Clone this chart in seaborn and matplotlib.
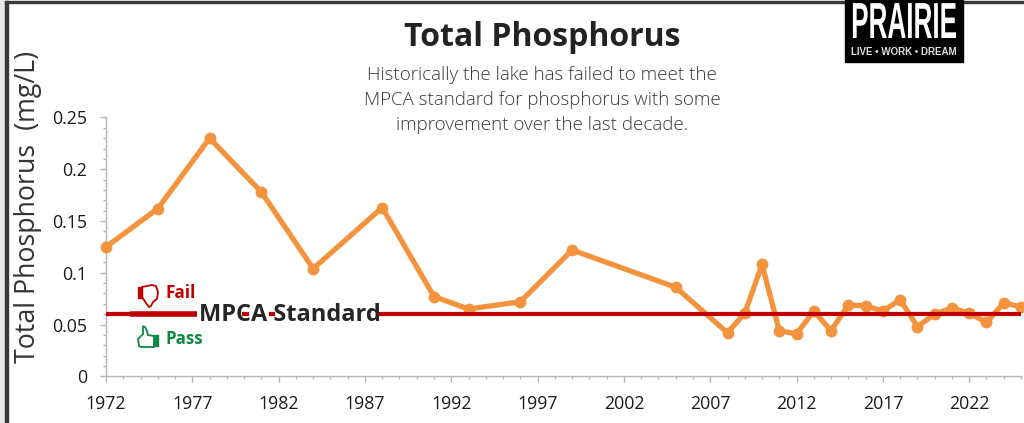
import matplotlib
matplotlib.use("Agg")
import matplotlib.pyplot as plt
import seaborn as sns
import pandas as pd
from matplotlib.patches import Rectangle, Polygon
from matplotlib.patheffects import AbstractPathEffect
from matplotlib.ticker import MultipleLocator, FuncFormatter
from matplotlib.transforms import Affine2D

# values
years = [1972, 1975, 1978, 1981, 1984, 1988, 1991, 1993, 1996, 1999, 2005, 2008, 2009, 2010, 2011,
         2012, 2013, 2014, 2015, 2016, 2017, 2018, 2019, 2020, 2021, 2022, 2023, 2024, 2025]
phosphorus = [0.125, 0.162, 0.230, 0.178, 0.104, 0.163, 0.077, 0.065, 0.072, 0.122, 0.086, 0.042, 0.061, 0.108, 0.044,
              0.041, 0.063, 0.044, 0.069, 0.068, 0.063, 0.074, 0.048, 0.060, 0.066, 0.061, 0.052, 0.071, 0.067]
standard = 0.06
# bits of the standard line that show around its label
standard_spans = [(1972, 1977.3), (1979.9, 1980.3), (1981.45, 1981.8), (1987.8, 2025)]
xticks = list(range(1972, 2026, 5))
subtitle = "Historically the lake has failed to meet the\nMPCA standard for phosphorus with some\nimprovement over the last decade."

W, H = 1024, 423


class Squeeze(AbstractPathEffect):
    # narrows a text around its centre, no condensed font is installed
    def __init__(self, cx, sx):
        super().__init__()
        self.cx, self.sx = cx, sx

    def draw_path(self, renderer, gc, tpath, affine, rgbFace=None):
        squeezed = affine + Affine2D().translate(-self.cx, 0).scale(self.sx, 1).translate(self.cx, 0)
        renderer.draw_path(gc, tpath, squeezed, rgbFace)


sns.set_theme(style="white")
plt.rcParams['font.family'] = ['Open Sans', 'DejaVu Sans']

fig = plt.figure(figsize=(W / 100, H / 100), dpi=100)
ax = fig.add_axes([106 / W, 1 - 376.3 / H, (1021 - 106) / W, (376.3 - 117.5) / H])
ax.patch.set_alpha(0)

df = pd.DataFrame({"year": years, "tp": phosphorus})
sns.lineplot(data=df, x="year", y="tp", ax=ax, color="#F4933D", linewidth=3.8, marker="o",
             markersize=8.5, markeredgewidth=0, clip_on=False, zorder=3)
for x0, x1 in standard_spans:
    ax.plot([x0, x1], [standard, standard], color="#C00000", linewidth=3, zorder=4, solid_capstyle="butt", clip_on=False)
ax.plot([1973.4, 1977.3], [standard, standard], color="#C00000", linewidth=4, zorder=4, solid_capstyle="butt")

ax.set_xlim(1972, 2025)
ax.set_ylim(0, 0.25)
ax.set_xticks(xticks)
ax.xaxis.set_minor_locator(MultipleLocator(1))
ax.yaxis.set_major_locator(MultipleLocator(0.05))
ax.yaxis.set_minor_locator(MultipleLocator(0.01))
ax.yaxis.set_major_formatter(FuncFormatter(lambda v, p: f"{v:.2f}".rstrip("0").rstrip(".")))
for s in ["top", "right"]:
    ax.spines[s].set_visible(False)
for s in ["left", "bottom"]:
    ax.spines[s].set_color("#B5B5B5")
    ax.spines[s].set_linewidth(1)
ax.tick_params(which="major", length=4.3, width=1, color="#B5B5B5", labelsize=12.8, labelcolor="#1a1a1a", left=True, bottom=True, pad=9.5)
ax.tick_params(which="minor", length=2.5, width=1, color="#B5B5B5", left=True, bottom=True)
ax.set_xlabel("")
ax.set_ylabel("")

fig.text(28.5 / W, 1 - 207 / H, "Total Phosphorus  (mg/L)", rotation=90, fontsize=19.3, color="#333333", ha="center", va="center")
fig.text(542 / W, 1 - 38 / H, "Total Phosphorus", fontsize=23, fontweight="bold", color="#222222", ha="center", va="center")
fig.text(542 / W, 1 - 100 / H, subtitle, fontsize=13.5, color="#3A3A3A", ha="center", va="center", fontweight="light", linespacing=1.52)

fig.text(290 / W, 1 - 314.5 / H, "MPCA Standard", fontsize=17, fontweight="bold", color="#262626", ha="center", va="center", zorder=6)
fig.text(165.5 / W, 1 - 293 / H, "Fail", fontsize=12.4, fontweight="bold", color="#C00000", va="center")
fig.text(165.5 / W, 1 - 339 / H, "Pass", fontsize=12.2, fontweight="bold", color="#0B8A44", va="center")

# thumbs, no installed font has these glyphs (pixel positions, top-left origin)
px = Affine2D().scale(1 / W, -1 / H).translate(0, 1) + fig.transFigure
thumb_down = [(142, 287), (152, 285), (156, 286), (158, 292), (157, 299), (153, 302), (151, 306), (149, 307),
              (146, 303), (142, 297)]
thumb_up = [(154, 336), (148, 335), (147, 331), (145, 327), (143, 326), (143, 334), (138, 339), (139, 346),
            (141, 347), (154, 347)]
fig.patches.append(Polygon(thumb_down, closed=True, fill=False, edgecolor="#C00000", linewidth=1.3, transform=px, zorder=6))
fig.patches.append(Rectangle((137.5, 287), 4.5, 11, color="#C00000", transform=px, zorder=6))
fig.patches.append(Polygon(thumb_up, closed=True, fill=False, edgecolor="#0B8A44", linewidth=1.3, transform=px, zorder=6))
fig.patches.append(Rectangle((154, 335), 4, 11.5, color="#0B8A44", transform=px, zorder=6))

# frame of the slide
fig.patches.append(Rectangle((0, 0), 5, H, transform=px, color="#E4E6E8", zorder=0))
fig.patches.append(Rectangle((5, 1), 2.5, H, transform=px, color="#3A3A3A", zorder=1))
fig.patches.append(Rectangle((5, 1), W, 2, transform=px, color="#3A3A3A", zorder=1))

# logo
fig.patches.append(Rectangle((845, 0), 118, 62, transform=px, color="black", zorder=5))
fig.text(904 / W, 1 - 38 / H, "PRAIRIE", fontsize=36.5, fontweight="bold", color="white", ha="center", va="baseline", zorder=6,
         family=["Liberation Sans"], path_effects=[Squeeze(904, 0.515)])
fig.text(904 / W, 1 - 52 / H, "LIVE • WORK • DREAM", fontsize=7, color="#dddddd", ha="center", va="center", zorder=6,
         family=["Liberation Sans"], fontweight="bold")

fig.savefig("out.png", dpi=100)
